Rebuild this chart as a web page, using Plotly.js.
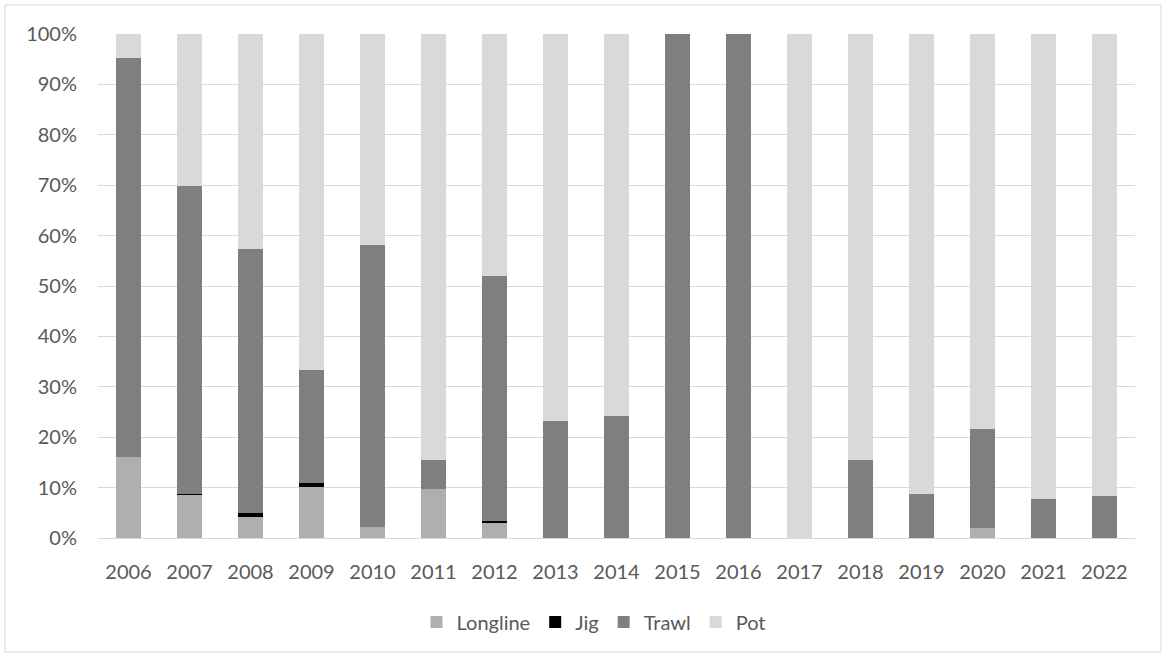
<!DOCTYPE html>
<html><head><meta charset="utf-8">
<script src="https://cdn.plot.ly/plotly-3.0.1.min.js"></script>
<style>html,body{margin:0;padding:0;background:#fff;}#chart{width:1167px;height:658px;}</style>
</head><body><div id="chart"></div>
<script>
const years = ['2006','2007','2008','2009','2010','2011','2012','2013','2014','2015','2016','2017','2018','2019','2020','2021','2022'];
const longline = [16.1, 8.6, 4.2, 10.2, 2.2, 9.8, 3.0, 0, 0, 0, 0, 0, 0, 0, 2.0, 0, 0];
const jig      = [0, 0.1, 0.7, 0.8, 0, 0, 0.4, 0, 0, 0, 0, 0, 0, 0, 0, 0, 0];
const trawl    = [79.2, 61.1, 52.5, 22.3, 55.9, 5.7, 48.6, 23.3, 24.3, 100, 100, 0, 15.5, 8.7, 19.6, 7.7, 8.3];
const pot = years.map((_, i) => Math.max(0, +(100 - longline[i] - jig[i] - trawl[i]).toFixed(2)));

const L = 98, R = 1135, T = 34, B = 538, W = 1167, H = 658;
const pw = R - L, ph = B - T;
function px(x){return (x - L)/pw;}
function py(y){return (B - y)/ph;}

const mk = (name, vals, color) => ({
  type: 'bar', name: name, x: years, y: vals.map(v => v/100),
  marker: {color: color, line: {width: 0}}, hoverinfo: 'x+y+name'
});
const data = [
  mk('Longline', longline, '#afafaf'),
  mk('Jig', jig, '#000000'),
  mk('Trawl', trawl, '#7f7f7f'),
  mk('Pot', pot, '#d9d9d9')
];
const FS = 20;
const layout = {
  width: W, height: H, barmode: 'stack', bargap: 0.59,
  margin: {l: L, r: W - R, t: T, b: H - B, pad: 0},
  paper_bgcolor: '#fff', plot_bgcolor: '#fff',
  font: {family: 'Lato, "Open Sans", sans-serif', size: FS, color: '#595959'},
  xaxis: {type: 'category', showgrid: false, showline: true, linecolor: '#d9d9d9', linewidth: 1,
          ticks: '', ticklabelstandoff: 16, tickfont: {size: FS, color: '#595959'}, fixedrange: true},
  yaxis: {range: [0, 1], tickvals: [0,0.1,0.2,0.3,0.4,0.5,0.6,0.7,0.8,0.9,1],
          ticktext: ['0%','10%','20%','30%','40%','50%','60%','70%','80%','90%','100%'],
          showgrid: true, gridcolor: '#d9d9d9', gridwidth: 1, zeroline: false, showline: false,
          ticks: '', ticklen: 0, ticklabelstandoff: 20, tickfont: {size: FS, color: '#595959'}, fixedrange: true},
  legend: {orientation: 'h', x: px(594), xanchor: 'center', y: py(622), yanchor: 'middle',
           font: {size: FS, color: '#595959'}, traceorder: 'normal', itemwidth: 30},
  shapes: [{type: 'rect', xref: 'paper', yref: 'paper', x0: px(5), x1: px(1161), y0: py(5), y1: py(652),
            line: {color: '#d9d9d9', width: 1}, fillcolor: 'rgba(0,0,0,0)'}]
};
Plotly.newPlot('chart', data, layout, {displayModeBar: false, staticPlot: true});
</script></body></html>
